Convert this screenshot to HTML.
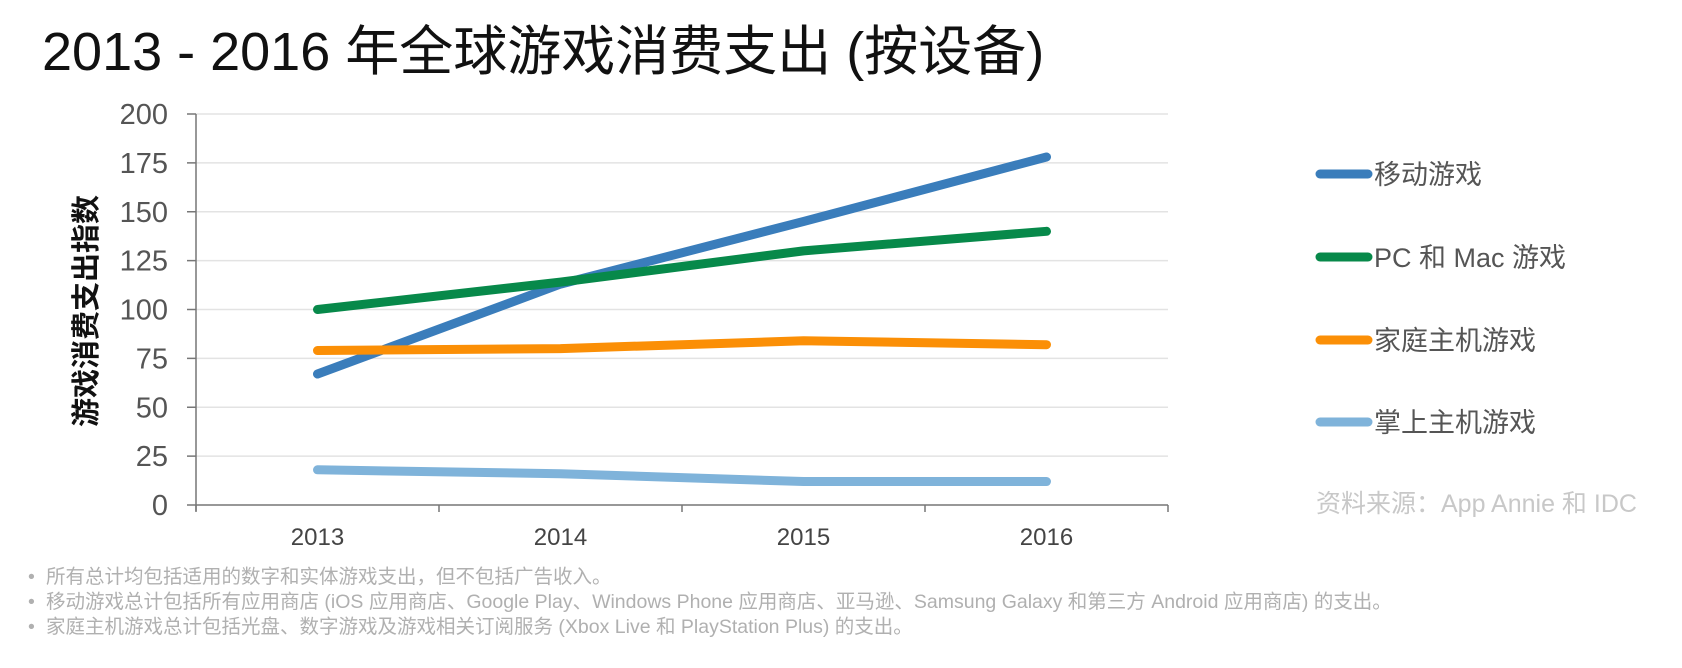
<!DOCTYPE html>
<html><head><meta charset="utf-8"><style>
body{margin:0;background:#fff;width:1682px;height:663px;overflow:hidden;font-family:"Liberation Sans","Noto Sans CJK SC",sans-serif}
</style></head><body>
<svg width="1682" height="663" font-family="Liberation Sans, Noto Sans CJK SC, sans-serif">
<text x="42" y="70" font-size="54" fill="#111">2013 - 2016 年全球游戏消费支出 (按设备)</text>
<g id="grid"></g><g id="axes"></g><g id="series"></g>
<text transform="translate(96,311) rotate(-90)" text-anchor="middle" font-size="29" font-weight="bold" fill="#111">游戏消费支出指数</text>
<g id="legend"></g>
<text x="1316" y="512" font-size="25" fill="#c8c8c8">资料来源：App Annie 和 IDC</text>
<g font-size="19.5" fill="#b0b0b0">
<text x="28" y="583">•</text><text x="46" y="583">所有总计均包括适用的数字和实体游戏支出，但不包括广告收入。</text>
<text x="28" y="608">•</text><text x="46" y="608">移动游戏总计包括所有应用商店 (iOS 应用商店、Google Play、Windows Phone 应用商店、亚马逊、Samsung Galaxy 和第三方 Android 应用商店) 的支出。</text>
<text x="28" y="633">•</text><text x="46" y="633">家庭主机游戏总计包括光盘、数字游戏及游戏相关订阅服务 (Xbox Live 和 PlayStation Plus) 的支出。</text>
</g>
</svg>
<script>
const categories=["2013","2014","2015","2016"];
const yTicks=[0,25,50,75,100,125,150,175,200];
const seriesNames=["移动游戏","PC 和 Mac 游戏","家庭主机游戏","掌上主机游戏"];
const mobile=[67,113,145,178];
const pc=[100,114,130,140];
const consoleHome=[79,80,84,82];
const handheld=[18,16,12,12];
const NS="http://www.w3.org/2000/svg";
const L=196,R=1168,T=114,B=505;
const bw=(R-L)/categories.length;
const x=i=>L+bw*(i+0.5);
const y=v=>B-(v/200)*(B-T);
function mk(t,a,p){const e=document.createElementNS(NS,t);for(const k in a)e.setAttribute(k,a[k]);p.appendChild(e);return e;}
const grid=document.getElementById('grid'),axes=document.getElementById('axes'),ser=document.getElementById('series'),leg=document.getElementById('legend');
yTicks.forEach(v=>{
 if(v>0){const g=mk('line',{x1:L,x2:R,y1:y(v),y2:y(v),stroke:'#e3e3e3','stroke-width':1.5},grid);
 
 }
 const tk=mk('line',{x1:L-9,x2:L,y1:y(v),y2:y(v),stroke:'#777','stroke-width':1.5},axes);
 
 
 const t=mk('text',{x:L-28,y:y(v)+10,'text-anchor':'end','font-size':29,fill:'#555'},axes);
 t.textContent=v;
 
 
});
const ya=mk('line',{x1:L,x2:L,y1:T,y2:B+6,stroke:'#777','stroke-width':1.5},axes);


const xa=mk('line',{x1:L,x2:R,y1:B,y2:B,stroke:'#777','stroke-width':1.5},axes);


for(let i=0;i<=categories.length;i++){const tk=mk('line',{x1:L+bw*i,x2:L+bw*i,y1:B,y2:B+7,stroke:'#777','stroke-width':1.5},axes);
 
 }
categories.forEach((c,i)=>{const t=mk('text',{x:x(i),y:545,'text-anchor':'middle','font-size':24,fill:'#444'},axes);t.textContent=c;
 
 });
const data=[mobile,pc,consoleHome,handheld];
const colors=["#3a7dbb","#07894a","#fb8f06","#7fb3da"];
const legY=[174,257,340,422];
data.forEach((d,s)=>{
 const p=mk('polyline',{points:d.map((v,i)=>x(i)+','+y(v)).join(' '),fill:'none',stroke:colors[s],'stroke-width':9,'stroke-linecap':'round','stroke-linejoin':'round'},ser);
 
 
 const g=mk('g',{},leg);
 
 
 mk('line',{x1:1320,x2:1368,y1:legY[s],y2:legY[s],stroke:colors[s],'stroke-width':9,'stroke-linecap':'round'},g);
 const t=mk('text',{x:1374,y:legY[s]+10,'font-size':27,fill:'#555'},g);t.textContent=seriesNames[s];
});
</script>
</body></html>
